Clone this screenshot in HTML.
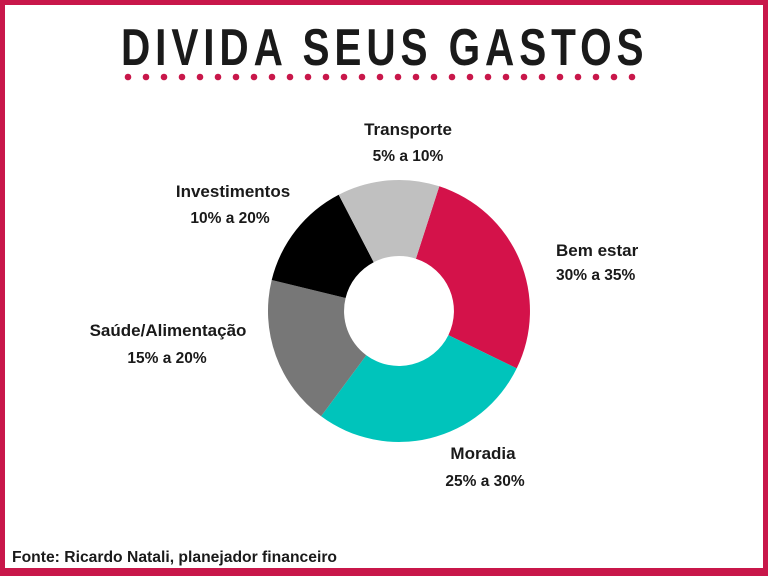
<!DOCTYPE html>
<html><head><meta charset="utf-8"><style>
html,body{margin:0;padding:0;background:#fff}
body{width:768px;height:576px;overflow:hidden;position:relative;font-family:"Liberation Sans",sans-serif}
.frame{position:absolute;left:0;top:0;width:768px;height:576px;box-sizing:border-box;border:5px solid #c8174a;border-bottom-width:8px}
svg{position:absolute;left:0;top:0}
</style></head><body>
<div class="frame"></div>
<svg width="768" height="576" viewBox="0 0 768 576">
<text transform="translate(121,65) scale(0.78,1)" x="0" y="0" font-family="Liberation Sans, sans-serif" font-weight="bold" font-size="52" fill="#1a1a1a" textLength="670" lengthAdjust="spacing">DIVIDA SEUS GASTOS</text>
<g fill="#c8174a">
<circle cx="128" cy="77" r="3.3"/><circle cx="146" cy="77" r="3.3"/><circle cx="164" cy="77" r="3.3"/><circle cx="182" cy="77" r="3.3"/><circle cx="200" cy="77" r="3.3"/><circle cx="218" cy="77" r="3.3"/><circle cx="236" cy="77" r="3.3"/><circle cx="254" cy="77" r="3.3"/><circle cx="272" cy="77" r="3.3"/><circle cx="290" cy="77" r="3.3"/><circle cx="308" cy="77" r="3.3"/><circle cx="326" cy="77" r="3.3"/><circle cx="344" cy="77" r="3.3"/><circle cx="362" cy="77" r="3.3"/><circle cx="380" cy="77" r="3.3"/><circle cx="398" cy="77" r="3.3"/><circle cx="416" cy="77" r="3.3"/><circle cx="434" cy="77" r="3.3"/><circle cx="452" cy="77" r="3.3"/><circle cx="470" cy="77" r="3.3"/><circle cx="488" cy="77" r="3.3"/><circle cx="506" cy="77" r="3.3"/><circle cx="524" cy="77" r="3.3"/><circle cx="542" cy="77" r="3.3"/><circle cx="560" cy="77" r="3.3"/><circle cx="578" cy="77" r="3.3"/><circle cx="596" cy="77" r="3.3"/><circle cx="614" cy="77" r="3.3"/><circle cx="632" cy="77" r="3.3"/>
</g>
<path d="M439.3 186.3 A131 131 0 0 1 516.7 368.4 L448.4 335.1 A55 55 0 0 0 415.9 258.7 Z" fill="#d4124a"/>
<path d="M516.7 368.4 A131 131 0 0 1 321.1 416.3 L366.3 355.2 A55 55 0 0 0 448.4 335.1 Z" fill="#00c4bb"/>
<path d="M321.1 416.3 A131 131 0 0 1 271.7 280.0 L345.6 298.0 A55 55 0 0 0 366.3 355.2 Z" fill="#777777"/>
<path d="M271.7 280.0 A131 131 0 0 1 338.7 194.7 L373.7 262.2 A55 55 0 0 0 345.6 298.0 Z" fill="#000000"/>
<path d="M338.7 194.7 A131 131 0 0 1 439.3 186.3 L415.9 258.7 A55 55 0 0 0 373.7 262.2 Z" fill="#c0c0c0"/>
<g font-family="Liberation Sans, sans-serif" font-weight="bold" fill="#1a1a1a">
<text x="408" y="135" font-size="17" text-anchor="middle">Transporte</text>
<text x="408" y="161" font-size="15.5" text-anchor="middle">5% a 10%</text>
<text x="233" y="197" font-size="17" text-anchor="middle">Investimentos</text>
<text x="230" y="223" font-size="15.5" text-anchor="middle">10% a 20%</text>
<text x="556" y="256" font-size="17">Bem estar</text>
<text x="556" y="280" font-size="15.5">30% a 35%</text>
<text x="168" y="336" font-size="17" text-anchor="middle">Saúde/Alimentação</text>
<text x="167" y="363" font-size="15.5" text-anchor="middle">15% a 20%</text>
<text x="483" y="459" font-size="17" text-anchor="middle">Moradia</text>
<text x="485" y="486" font-size="15.5" text-anchor="middle">25% a 30%</text>
<text x="12" y="562" font-size="15.5" textLength="325" lengthAdjust="spacingAndGlyphs">Fonte: Ricardo Natali, planejador financeiro</text>
</g>
</svg>
</body></html>
